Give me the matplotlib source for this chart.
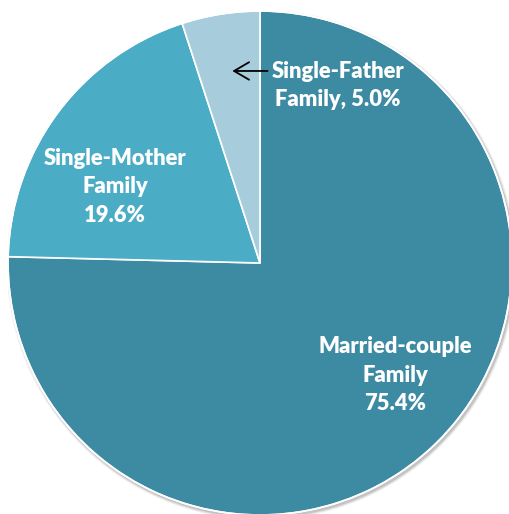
import matplotlib
matplotlib.use("Agg")
import matplotlib.pyplot as plt
from matplotlib.patches import Circle

categories = ["Married-couple\nFamily", "Single-Mother\nFamily", "Single-Father\nFamily"]
values = [75.4, 19.6, 5.0]
colors = ["#3D8BA3", "#4BACC6", "#A7CDDC"]

W, H = 509, 514
fig = plt.figure(figsize=(W / 100, H / 100), dpi=100)
cx, cy, r = 260, 263, 252
ax = fig.add_axes([(cx - r) / W, (H - cy - r) / H, 2 * r / W, 2 * r / H])
ax.set_xlim(-1, 1)
ax.set_ylim(-1, 1)
ax.axis("off")

# soft shadow
for i, a in enumerate([0.05, 0.08, 0.12]):
    ax.add_patch(Circle((0.006, -0.008), 1.0 + 0.012 - i * 0.004, color="black", alpha=a, lw=0, zorder=0))

wedges, _ = ax.pie(values, colors=colors, startangle=90, counterclock=False, radius=1.0,
                   wedgeprops=dict(edgecolor="white", linewidth=1.2), frame=False)
ax.add_patch(Circle((0, 0), 1.0, fill=False, ec="white", lw=1.2, zorder=5))
ax.set_xlim(-1, 1)
ax.set_ylim(-1, 1)
ax.set_aspect("auto")

font = dict(family=["Lato", "DejaVu Sans"], fontweight="heavy", fontsize=15.8, color="white",
            linespacing=1.45, ha="center", va="center", zorder=10)

ax.text(0.536, -0.445, f"{categories[0]}\n{values[0]:.1f}%", **font)
ax.text(-0.575, 0.302, f"{categories[1]}\n{values[1]:.1f}%", **font)
f1, f2 = categories[2].split("\n")
ax.text(0.31, 0.705, f"{f1}\n{f2}, {values[2]:.1f}%", **font)
ax.annotate("", xy=(-0.11, 0.762), xytext=(0.03, 0.762),
            arrowprops=dict(arrowstyle="->, head_length=0.6, head_width=0.35", color="black",
                            lw=1.3, mutation_scale=18, shrinkA=0, shrinkB=0), zorder=10)

fig.savefig("out.png", dpi=100)
